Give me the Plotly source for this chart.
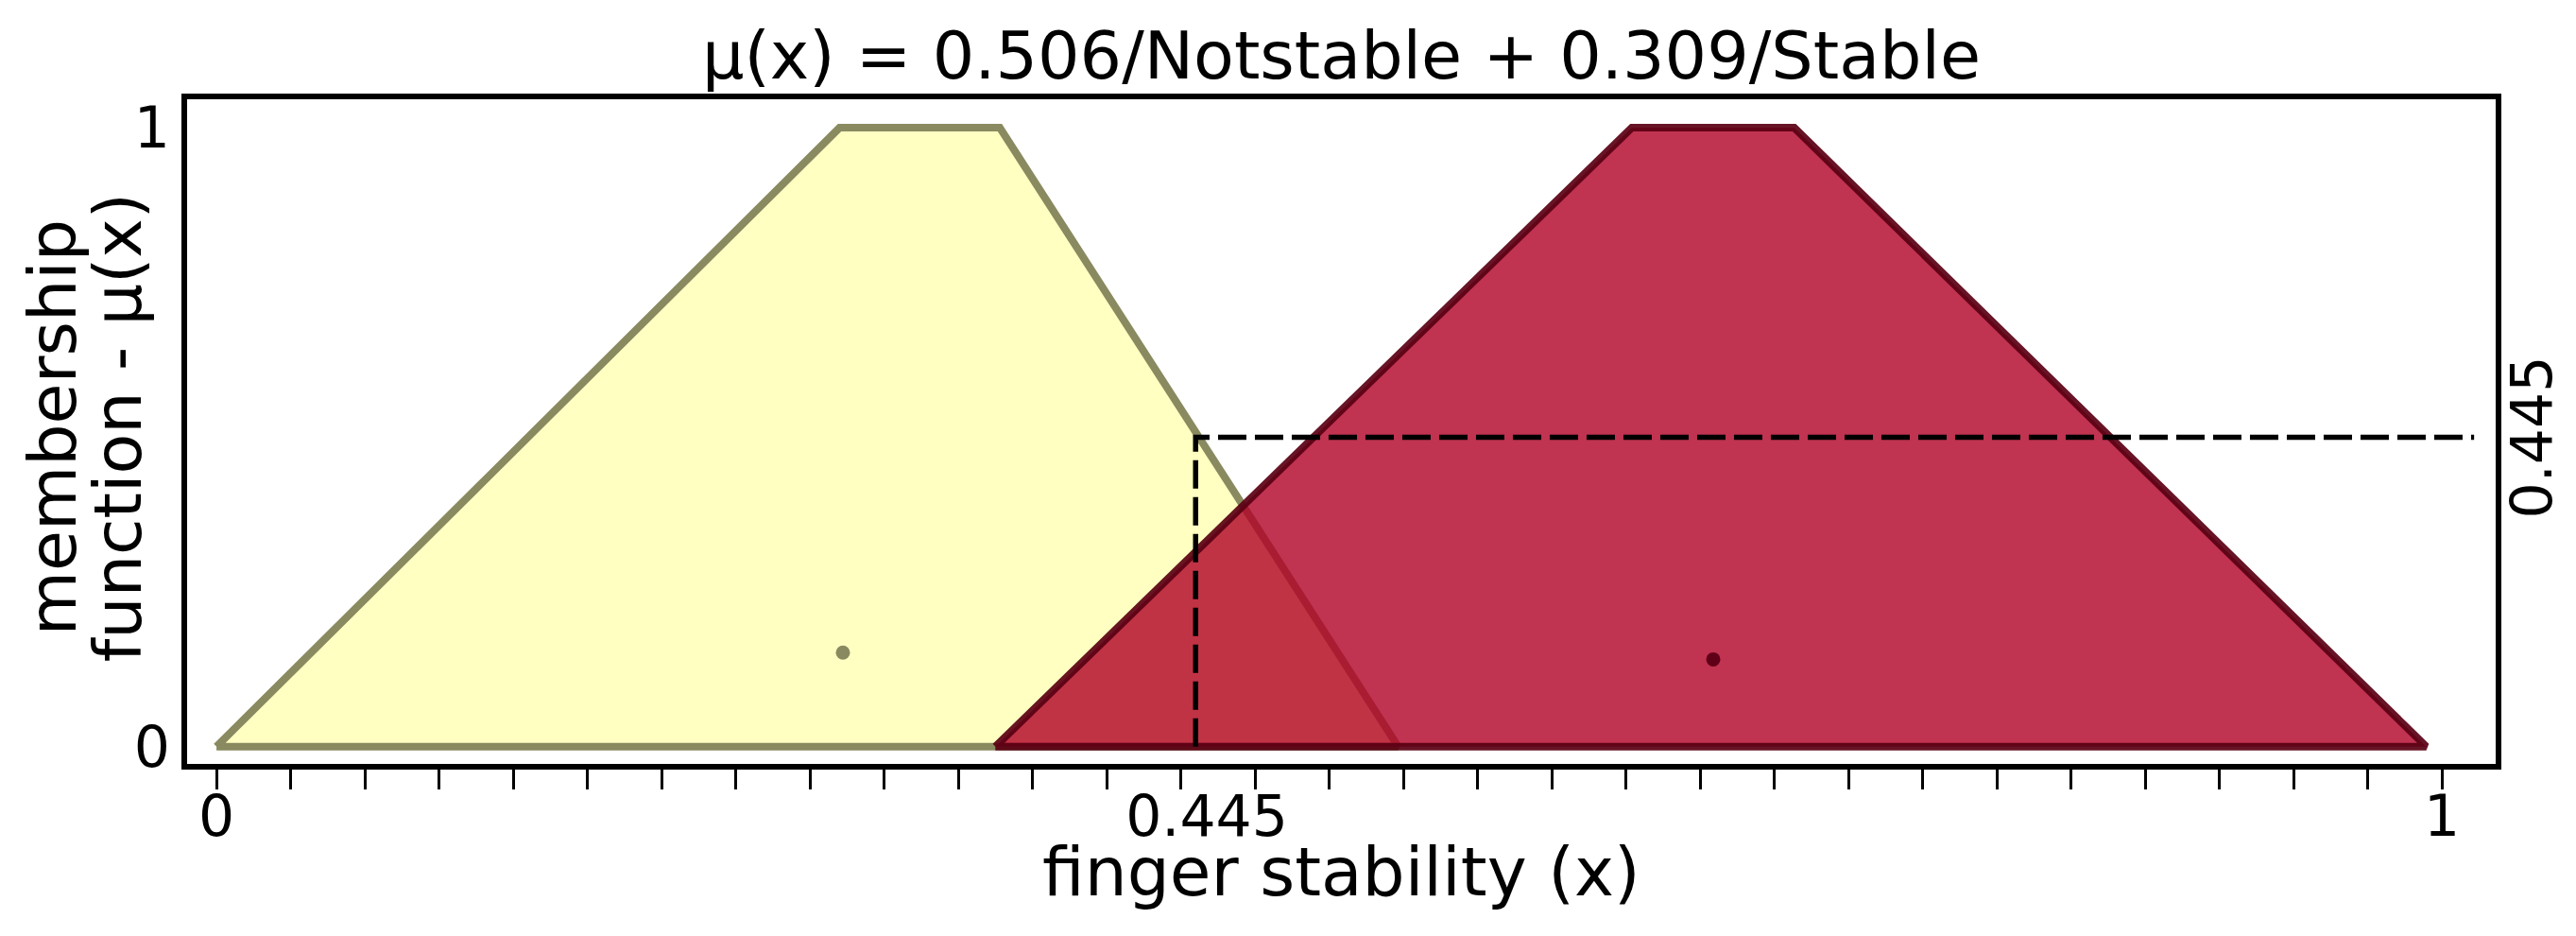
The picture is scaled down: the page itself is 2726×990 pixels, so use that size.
import plotly.graph_objects as go

# x ticks every 1/30; labelled values sit on a separate overlay axis
x_ticks = [i / 30 for i in range(31)]
x_label_vals = [0, 0.445, 1]
x_label_text = ["0", "0.445", "1"]

# membership functions (trapezoids)
notstable_x = [0.0, 0.280, 0.352, 0.531, 0.0]
notstable_y = [0, 1, 1, 0, 0]
stable_x = [0.350, 0.636, 0.709, 0.993, 0.350]
stable_y = [0, 1, 1, 0, 0]

# centroids
notstable_cx, notstable_cy = 0.2815, 0.152
stable_cx, stable_cy = 0.6726, 0.141

# crisp input and its membership level
crisp_x = 0.44
crisp_mu = 0.50
crisp_end = 1.0145
crisp_label = "0.445"

title_text = "μ(x) = 0.506/Notstable + 0.309/Stable"
FONT = "DejaVu Sans"

# page body adds an 8px margin, so the figure is sized/offset to compensate
W, H = 2710, 974

fig = go.Figure()

fig.add_trace(go.Scatter(
    x=notstable_x, y=notstable_y, mode="lines", fill="toself",
    fillcolor="rgb(255,255,194)", line=dict(color="rgb(138,138,96)", width=8),
    hoverinfo="skip", showlegend=False
))
fig.add_trace(go.Scatter(
    x=stable_x, y=stable_y, mode="lines", fill="toself",
    fillcolor="rgba(176,0,38,0.8)", line=dict(color="rgba(90,0,20,0.92)", width=8),
    hoverinfo="skip", showlegend=False
))
fig.add_trace(go.Scatter(
    x=[notstable_cx], y=[notstable_cy], mode="markers",
    marker=dict(color="rgb(138,138,96)", size=15), showlegend=False
))
fig.add_trace(go.Scatter(
    x=[stable_cx], y=[stable_cy], mode="markers",
    marker=dict(color="rgb(96,0,24)", size=15), showlegend=False
))
# dashed guide lines
fig.add_trace(go.Scatter(
    x=[crisp_x, crisp_x, crisp_end], y=[0, crisp_mu, crisp_mu], mode="lines",
    line=dict(color="black", width=5.5, dash="30px,9px"),
    xaxis="x2", showlegend=False
))

xr = [-0.0132, 1.0242]
yr = [-0.028, 1.046]

fig.update_layout(
    width=W, height=H,
    margin=dict(l=190, r=77, t=97, b=174),
    paper_bgcolor="white", plot_bgcolor="white",
    font=dict(family=FONT, color="black"),
    title=dict(text=title_text, x=0.5, xref="paper", y=1 - 50 / H, yref="container",
               xanchor="center", yanchor="middle", font=dict(size=70, family=FONT)),
    xaxis=dict(
        range=xr, tickmode="array", tickvals=x_ticks, showticklabels=False,
        ticks="outside", ticklen=21, tickwidth=3, tickcolor="black",
        showgrid=False, zeroline=False, automargin=False,
        showline=True, linecolor="black", linewidth=6, mirror=True,
    ),
    xaxis2=dict(
        range=xr, overlaying="x", side="bottom", anchor="y",
        tickmode="array", tickvals=x_label_vals, ticktext=x_label_text,
        ticks="outside", ticklen=3, tickcolor="rgba(0,0,0,0)", automargin=False,
        tickfont=dict(size=60), showgrid=False, zeroline=False, showline=False,
    ),
    yaxis=dict(
        range=yr, tickmode="array", tickvals=[0, 1], ticktext=["0", "1"],
        ticks="", automargin=False,
        tickfont=dict(size=60), showgrid=False, zeroline=False,
        showline=True, linecolor="black", linewidth=6, mirror=True,
    ),
    annotations=[
        dict(text="finger stability (x)", x=0.5, y=-(922 - 808) / 703, xref="paper", yref="paper",
             xanchor="center", yanchor="middle", showarrow=False, font=dict(size=71)),
        dict(text="membership", x=(56 - 198) / 2443, y=0.506, xref="paper", yref="paper",
             xanchor="center", yanchor="middle", textangle=-90, showarrow=False,
             font=dict(size=70)),
        dict(text="function - μ(x)", x=(125 - 198) / 2443, y=0.506, xref="paper", yref="paper",
             xanchor="center", yanchor="middle", textangle=-90, showarrow=False,
             font=dict(size=70)),
        dict(text=crisp_label, x=(2679 - 198) / 2443, y=crisp_mu, xref="paper", yref="y",
             xanchor="center", yanchor="middle", textangle=-90, showarrow=False,
             font=dict(size=60)),
    ],
)

fig.write_html("out.html")
